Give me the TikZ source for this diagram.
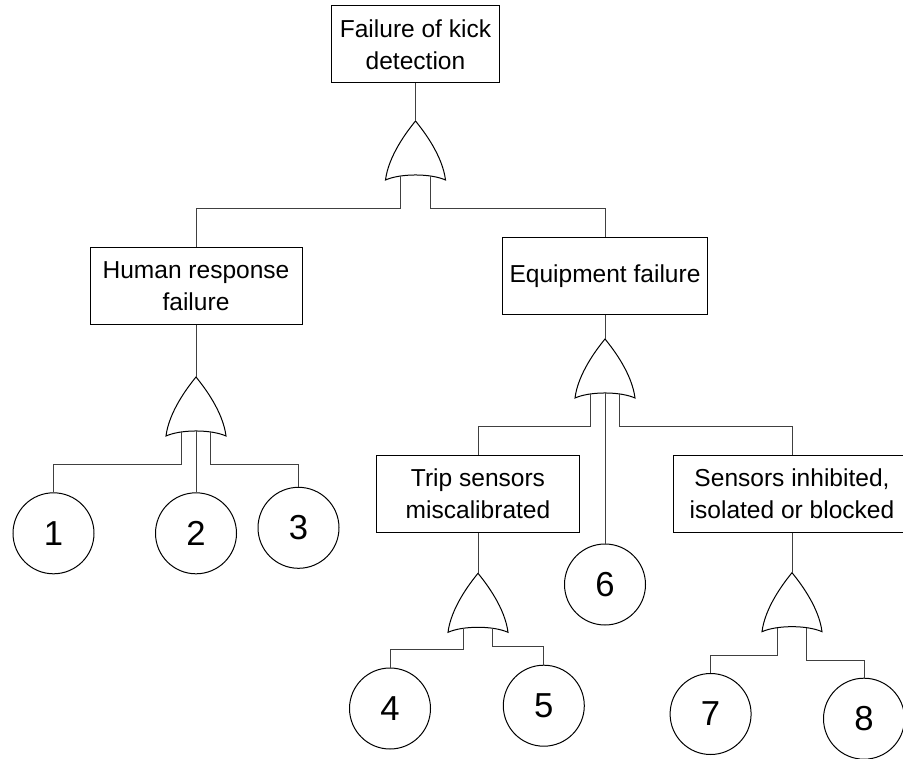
\documentclass[tikz,border=0pt]{standalone}
\usepackage{fontspec}
\setmainfont{Liberation Sans}
\definecolor{connc}{RGB}{64,64,64}
\tikzset{
  evbox/.style={draw=black, line width=0.75pt, fill=white, align=center, inner sep=0pt,
    font=\fontsize{18.4}{24}\selectfont},
  basic/.style={circle, draw=black, line width=0.75pt, fill=white, minimum size=60.75pt,
    inner sep=0pt, font=\fontsize{26}{30}\selectfont},
  conn/.style={draw=connc, line width=0.75pt},
  orgate/.pic={
    \draw[line width=0.75pt, fill=white] (0,0) .. controls (-9,11) and (-27,35) .. (-30,59)
      .. controls (-15,52.3) and (15,52.3) .. (30,59)
      .. controls (27,35) and (9,11) .. (0,0) -- cycle;
    \coordinate (-apex) at (0,0);
    \coordinate (-l) at (-14.7,55);
    \coordinate (-m) at (0,54);
    \coordinate (-r) at (14.7,55);
  }
}
\begin{document}
\begin{tikzpicture}[x=0.75pt,y=-0.75pt]
\useasboundingbox[fill=white] (0,0) rectangle (903,759);

% event boxes
\node[evbox, minimum width=126pt, minimum height=57.75pt] (top) at (415.5,44.5) {Failure of kick\\detection};
\node[evbox, minimum width=159pt, minimum height=57.75pt] (human) at (196,285.8) {Human response\\failure};
\node[evbox, minimum width=153.75pt, minimum height=57.75pt] (equip) at (605,275.8) {Equipment failure};
\node[evbox, minimum width=152pt, minimum height=57.75pt] (trip) at (478,493.7) {Trip sensors\\miscalibrated};
\node[evbox, minimum width=178.3pt, minimum height=57.75pt] (sens) at (792,493.6) {Sensors inhibited,\\isolated or blocked};

% gates
\pic (g1) at (415.5,121) {orgate};
\pic (g2) at (196,377) {orgate};
\pic (g3) at (605,339) {orgate};
\pic (g4) at (478,573.3) {orgate};
\pic (g5) at (792,572.7) {orgate};

% basic events
\node[basic] (c1) at (53.5,533.3) {1};
\node[basic] (c2) at (196,533.3) {2};
\node[basic] (c3) at (298.5,527.8) {3};
\node[basic] (c4) at (390,708.5) {4};
\node[basic] (c5) at (543.8,705.7) {5};
\node[basic] (c6) at (605,584.5) {6};
\node[basic] (c7) at (710.6,714) {7};
\node[basic] (c8) at (864,718.7) {8};

% connectors
\draw[conn] (top) -- (g1-apex);
\draw[conn] (g1-l) -- ++(0,33) -| (human.north);
\draw[conn] (g1-r) -- ++(0,33) -| (equip.north);

\draw[conn] (human) -- (g2-apex);
\draw[conn] (g2-l) -- ++(0,32.3) -| (c1.north);
\draw[conn] (g2-m) -- (c2.north);
\draw[conn] (g2-r) -- ++(0,32.3) -| (c3.north);

\draw[conn] (equip) -- (g3-apex);
\draw[conn] (g3-l) -- ++(0,32.7) -| (trip.north);
\draw[conn] (g3-m) -- (c6.north);
\draw[conn] (g3-r) -- ++(0,32.7) -| (sens.north);

\draw[conn] (trip) -- (g4-apex);
\draw[conn] (g4-l) -- ++(0,20.7) -| (c4.north);
\draw[conn] (g4-r) -- ++(0,18) -| (c5.north);

\draw[conn] (sens) -- (g5-apex);
\draw[conn] (g5-l) -- ++(0,27.3) -| (c7.north);
\draw[conn] (g5-r) -- ++(0,32.3) -| (c8.north);
\end{tikzpicture}
\end{document}
